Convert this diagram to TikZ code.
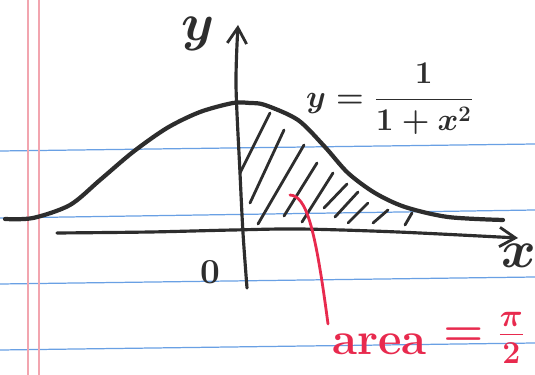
\RequirePackage{fix-cm}
\documentclass[tikz,border=0pt]{standalone}
\usepackage{amsmath,amssymb}
\usepackage{xcolor}
\usepackage{tikz}
\usetikzlibrary{arrows.meta,positioning}

\definecolor{ink}{RGB}{45,45,45}
\definecolor{penred}{RGB}{232,42,78}
\definecolor{ruleblue}{RGB}{105,160,228}
\definecolor{marginpink}{RGB}{242,165,175}

\begin{document}
\begin{tikzpicture}[
  x=0.02cm, y=-0.02cm,
  every node/.style={inner sep=0pt, text=ink},
  rule/.style={ruleblue, line width=0.7pt},
  margin/.style={marginpink, line width=0.9pt},
  axis/.style={ink, line width=1.8pt, line cap=round,
    -{Straight Barb[length=9pt, width=11pt, line width=1.6pt]}},
  graph/.style={ink, line width=2.4pt, line cap=round},
  hatch/.style={ink, line width=1.6pt, line cap=round},
  pointer/.style={penred, line width=1.6pt, line cap=round},
  lbl/.style={font=\fontsize{30}{30}\selectfont\boldmath},
  note/.style={font=\fontsize{26}{30}\selectfont\bfseries\boldmath, text=penred}
]
\fill[white] (0,0) rectangle (535,375);
\useasboundingbox (0,0) rectangle (535,375);

% Paper
\draw[rule] (0,151) -- (535,144);
\draw[rule] (0,218) -- (535,210);
\draw[rule] (0,284) -- (535,277);
\draw[rule] (0,350) -- (535,343);
\draw[margin] (28,0) -- (28,375);
\draw[margin] (39,0) -- (39,375);

% Axes
\draw[axis] plot[smooth] coordinates {(57,233) (150,232) (233,230) (300,229) (398,232) (518,238)};
\draw[axis] plot[smooth] coordinates {(247,288) (243,233) (240,173) (236,85) (238,25)};

% Curve
\draw[graph] plot[smooth] coordinates {(5,219) (33,218) (70,205) (100,180) (133,152)
  (167,128) (200,112) (233,103) (250,103) (265,105) (298,120) (325,147) (348,173)
  (375,193) (405,207) (448,217) (503,220)};

% Shading
\draw[hatch] (240,173) -- (270,113) (250,203) -- (284,130) (258,224) -- (304,145)
  (284,216) -- (317,163) (302,222) -- (333,173) (324,208) -- (347,184)
  (335,217) -- (358,192) (348,223) -- (368,203) (373,223) -- (388,210)
  (405,225) -- (412,213);

% Labels
\node[lbl] (ylab) at (198,34) {$y$};
\node[lbl] (xlab) at (519,256) {$x$};
\node[font=\fontsize{20}{20}\selectfont\bfseries] (origin) at (210,272) {0};
\node[font=\fontsize{18}{22}\selectfont\boldmath] (formula) at (390,99) {$y=\dfrac{1}{1+x^2}$};

% Area
\coordinate (spot) at (290,195);
\node[note, anchor=base west] (area) at (332,355) {area};
\node[note, right=9pt of area, yshift=4pt] (val) {$=\frac{\pi}{2}$};
\draw[pointer] (spot) .. controls (306,196) and (315,225) .. ([shift={(-4,-10)}]area.north west);
\end{tikzpicture}
\end{document}
